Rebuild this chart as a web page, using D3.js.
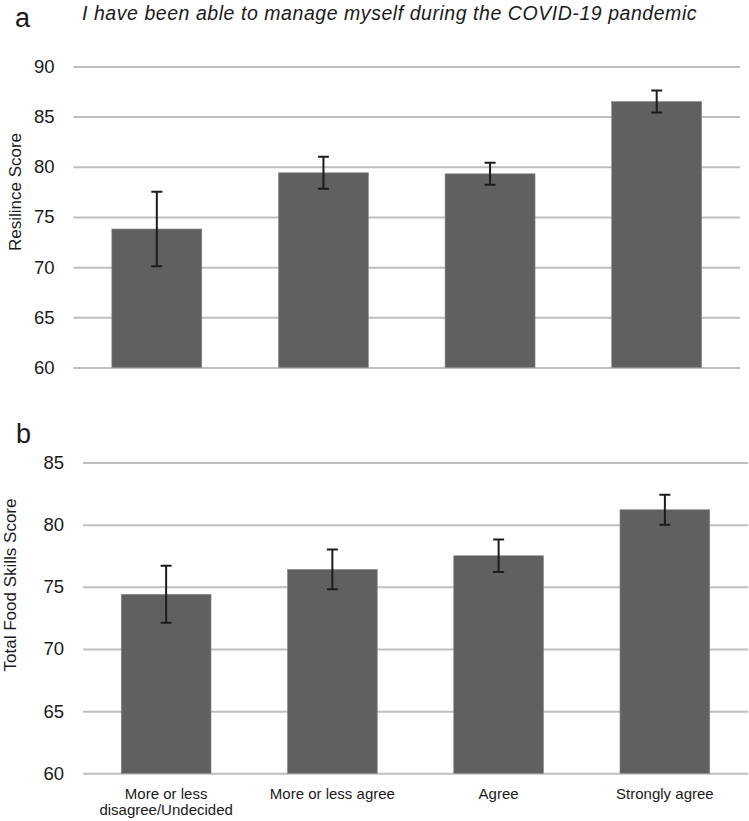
<!DOCTYPE html>
<html>
<head>
<meta charset="utf-8">
<script src="https://cdn.jsdelivr.net/npm/d3@7"></script>
<style>
  html, body { margin: 0; padding: 0; background: #fff; }
  svg { display: block; }
  text { font-family: "Liberation Sans", Arial, sans-serif; fill: #1a1a1a; }
</style>
</head>
<body>
<div id="chart"></div>
<script>
const WIDTH = 749;
const HEIGHT = 821;

const CATEGORIES = [
  "More or less\ndisagree/Undecided",
  "More or less agree",
  "Agree",
  "Strongly agree",
];

// Panel a: resilience score, mean and error
const RESILIENCE_MEAN = [73.8, 79.4, 79.3, 86.5];
const RESILIENCE_ERR = [3.7, 1.6, 1.1, 1.1];
const RESILIENCE_TICKS = [60, 65, 70, 75, 80, 85, 90];

// Panel b: total food skills score
const FOOD_MEAN = [74.4, 76.4, 77.5, 81.2];
const FOOD_ERR = [2.3, 1.6, 1.3, 1.2];
const FOOD_TICKS = [60, 65, 70, 75, 80, 85];

const BAR_COLOR = "#606060";
const GRID_COLOR = "#bfbfbf";
const ERR_COLOR = "#1c1c1c";

const svg = d3
  .select("#chart")
  .append("svg")
  .attr("width", WIDTH)
  .attr("height", HEIGHT);

function drawPanel(opts) {
  const { left, right, top, bottom, domain, ticks, means, errs, title, titleY, titleX, showX } = opts;

  const x = d3
    .scaleBand()
    .domain(CATEGORIES)
    .range([left, right])
    .paddingInner(0.46)
    .paddingOuter(0.23);

  const y = d3.scaleLinear().domain(domain).range([bottom, top]);

  const yAxis = svg
    .append("g")
    .attr("transform", `translate(${left},0)`)
    .call(
      d3.axisLeft(y)
        .tickValues(ticks)
        .tickSize(-(right - left))
        .tickPadding(19)
        .tickFormat(d3.format("d")),
    );
  yAxis.select(".domain").remove();
  yAxis.selectAll(".tick line").attr("stroke", GRID_COLOR).attr("stroke-width", 2);
  yAxis
    .selectAll(".tick text")
    .attr("font-family", '"Liberation Sans", Arial, sans-serif')
    .attr("font-size", 18.5)
    .attr("fill", "#1a1a1a");

  const rows = CATEGORIES.map((c, i) => ({ cat: c, mean: means[i], err: errs[i] }));

  svg
    .append("g")
    .selectAll("rect")
    .data(rows)
    .join("rect")
    .attr("x", (d) => x(d.cat))
    .attr("width", x.bandwidth())
    .attr("y", (d) => y(d.mean))
    .attr("height", (d) => y(domain[0]) - y(d.mean))
    .attr("fill", BAR_COLOR)
    .attr("stroke", "#8a8a8a")
    .attr("stroke-width", 0.6);

  const cap = 5.5;
  const eg = svg
    .append("g")
    .attr("stroke", ERR_COLOR)
    .attr("stroke-width", 2)
    .attr("fill", "none");
  eg.selectAll("path")
    .data(rows)
    .join("path")
    .attr("d", (d) => {
      const cx = x(d.cat) + x.bandwidth() / 2;
      const y0 = y(d.mean - d.err);
      const y1 = y(d.mean + d.err);
      return `M${cx},${y0}V${y1}M${cx - cap},${y1}H${cx + cap}M${cx - cap},${y0}H${cx + cap}`;
    });

  svg
    .append("text")
    .attr("transform", `translate(${titleX},${titleY}) rotate(-90)`)
    .attr("text-anchor", "middle")
    .attr("dy", "0.35em")
    .attr("font-size", 17)
    .text(title);

  if (showX) {
    const lab = svg
      .append("g")
      .selectAll("text")
      .data(CATEGORIES)
      .join("text")
      .attr("text-anchor", "middle")
      .attr("font-size", 15)
      .attr("x", (d) => x(d) + x.bandwidth() / 2)
      .attr("y", bottom + 26);
    lab
      .selectAll("tspan")
      .data((d) => d.split("\n"))
      .join("tspan")
      .attr("x", function () {
        return d3.select(this.parentNode).attr("x");
      })
      .attr("dy", (d, i) => (i === 0 ? 0 : 16))
      .text((d) => d);
  }
}

drawPanel({
  left: 73.5,
  right: 740,
  top: 66.4,
  bottom: 367.5,
  domain: [60, 90],
  ticks: RESILIENCE_TICKS,
  means: RESILIENCE_MEAN,
  errs: RESILIENCE_ERR,
  title: "Resilince Score",
  titleX: 15,
  titleY: 192,
  showX: false,
});

drawPanel({
  left: 83,
  right: 748,
  top: 462.5,
  bottom: 773.3,
  domain: [60, 85],
  ticks: FOOD_TICKS,
  means: FOOD_MEAN,
  errs: FOOD_ERR,
  title: "Total Food Skills Score",
  titleX: 10,
  titleY: 585,
  showX: true,
});

svg
  .append("text")
  .attr("x", 82)
  .attr("y", 20)
  .attr("font-size", 19.5)
  .attr("font-style", "italic")
  .attr("letter-spacing", 0.55)
  .text("I have been able to manage myself during the COVID-19 pandemic");

svg
  .append("text")
  .attr("x", 15)
  .attr("y", 27)
  .attr("font-family", '"Open Sans", sans-serif')
  .attr("font-size", 27)
  .text("a");

svg
  .append("text")
  .attr("x", 16)
  .attr("y", 443)
  .attr("font-family", '"Open Sans", sans-serif')
  .attr("font-size", 27)
  .text("b");
</script>
</body>
</html>
